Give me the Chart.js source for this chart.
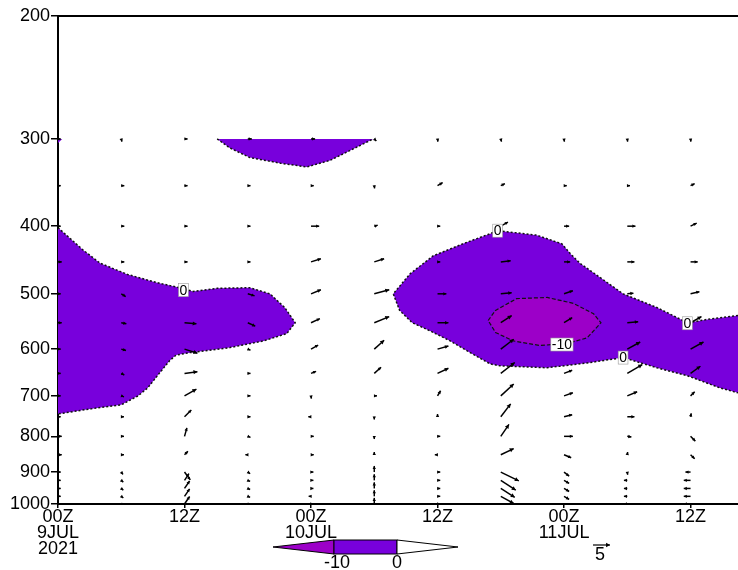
<!DOCTYPE html>
<html>
<head>
<meta charset="utf-8">
<script src="https://cdn.jsdelivr.net/npm/chart.js@4.4.1/dist/chart.umd.min.js"></script>
<style>
html, body { margin: 0; padding: 0; background: #fff; }
#wrap { width: 738px; height: 570px; position: relative; }
</style>
</head>
<body>
<div id="wrap"><canvas id="xsec"></canvas></div>
<script>
// time axis (hours from 00Z 9 JUL 2021) and pressure levels of the wind grid
const hours = [0, 6, 12, 18, 24, 30, 36, 42, 48, 54, 60];
const levels = [1000, 975, 950, 925, 900, 850, 800, 750, 700, 650, 600, 550, 500, 450, 400, 350, 300];
const pressureTicks = [200, 300, 400, 500, 600, 700, 800, 900, 1000];
const timeTicks = [0, 12, 24, 36, 48, 60];
const timeLabels = [["00Z", "9JUL", "2021"], ["12Z"], ["00Z", "10JUL"], ["12Z"], ["00Z", "11JUL"], ["12Z"]];

// wind components per time column, levels 1000 -> 300
const uWind = [
  [0.8, 0.8, 0.8, 0.8, 0.8, 1.1, 1.1, 0.8, 0.8, 0.8, 0.8, 1.1, 0.8, 1.1, 0.8, 0.8, 0.8],
  [0.6, 0.6, 0.6, 0.6, 0.5, 0.8, 0.8, 0.8, 0.8, 0.9, 1.4, 1.5, 1.3, 0.9, 0.9, 0.9, 0.2],
  [1.5, 1.5, 1.5, 1.3, 1.7, 1.0, 0.7, 2.0, 3.5, 3.8, 3.8, 3.5, 0.9, 0.9, 0.9, 0.9, 0.9],
  [0.7, 0.7, 0.7, 0.7, 0.7, -0.7, 0.8, 0.8, 0.8, 0.8, 0.8, 2.2, 2.0, 0.8, 0.8, 0.8, 1.2],
  [0.7, -0.7, 0.7, 0.7, 0.7, 0.8, 0.8, -0.8, 0.1, 1.5, 2.1, 2.6, 2.9, 2.9, 2.4, 0.8, 1.2],
  [0, 0, 0, 0, 0, 0, 0, 0, 0.8, 2.0, 2.9, 4.4, 4.4, 2.9, 1.0, 0.1, 0.6],
  [0.8, 0.8, 0.8, 0.8, 0.8, -0.8, 0.8, 0, 0.9, 3.2, 3.2, 3.2, 2.6, 0.8, 0.8, 1.5, 0.1],
  [1.8, 3.8, 4.1, 4.4, 5.3, 3.8, 2.4, 2.9, 3.8, 4.1, 3.8, 3.2, 3.2, 2.9, 2.1, 1.2, 0.2],
  [1.5, 1.5, 1.5, 1.5, 1.5, 2.1, 2.6, 2.4, 2.6, 2.4, 2.4, 2.4, 2.6, 1.8, 1.5, 0.8, 0.1],
  [-1.0, -1.0, -1.0, -1.0, 0.1, 0.1, 1.2, 2.1, 2.9, 4.4, 3.8, 3.2, 1.8, 2.1, 2.4, 0.8, 0.1],
  [-2.0, -2.0, -2.0, -2.0, -1.5, 1.2, 1.4, 0.2, 1.2, 2.9, 3.8, 3.2, 2.6, 2.1, 1.8, 1.2, 0.1]
];
const vWind = [
  [0, 0, 0, 0, 0, 0, 0, 0, 0, 0, 0, 0, 0, 0, 0, 0, 0],
  [-0.5, -0.5, -0.5, -0.5, -0.7, 0, 0, 0, -0.3, -0.5, -0.4, -0.3, -0.8, 0, 0, 0, -0.8],
  [2.2, 2.2, 2.2, 2.0, -2.3, 1.0, 2.5, 2.0, 2.0, 0.5, -1.2, -0.3, 0, 0, 0, 0, 0],
  [-0.3, -0.3, -0.3, -0.3, -0.5, 0, -0.3, 0, 0, 0, -0.3, -1.0, -0.6, 0, 0, 0, 0],
  [0, 0, 0, 0, 0, 0, 0, 0, -0.8, 0.6, 1.2, 1.2, 1.2, 0.9, 0, 0, 0],
  [1.8, 1.8, 1.8, 1.8, 1.8, 0.8, -0.8, -0.8, 0, 1.8, 2.6, 1.8, 1.2, 0.9, 0.3, -0.8, -0.6],
  [0, 0, 0, 0, 0, 0, 0, 0.8, 1.5, 1.5, 0.9, 0, 0, 0, 0, 0.9, -0.8],
  [-1.2, -2.1, -2.6, -2.9, -2.6, 1.8, 3.5, 3.8, 3.5, 3.2, 2.9, 2.1, 0.3, 0.3, 1.2, 0.6, -0.8],
  [-0.9, -0.9, -0.9, -0.9, -1.2, -0.9, 0, 0.6, 0.9, 0.9, 1.5, 1.5, 0.9, 0, 0, 0, -0.8],
  [0, 0, 0, 0, -0.8, 0.8, -0.2, 0, 1.2, 2.6, 2.1, 0.3, 0.2, 0, 0, 0, -0.8],
  [0, 0, 0, 0, 0, -1.2, -1.4, 1.0, 1.2, 2.1, 2.1, 1.8, 0.6, 0, 0.9, 0.6, -0.8]
];

// contours [hour, hPa]
const zeroLeft = [[0, 402], [2.4, 433], [4.0, 452], [6.6, 469], [9.4, 482], [11.8, 491], [12.8, 496], [15.1, 491],
  [18.2, 490], [20.1, 500], [21.5, 523], [22.5, 550], [21.7, 570], [19.5, 584], [16.3, 597], [12.5, 607],
  [11.2, 612], [10.6, 623], [9.6, 650], [8.5, 682], [7.6, 700], [6.0, 721], [3.0, 731], [0, 743]];
const zeroTop = [[15.1, 300], [16.3, 309], [18.2, 319], [21.1, 325], [23.6, 329], [25.8, 322], [29.9, 300]];
const zeroCorner = [[0, 300], [0.4, 300], [0, 304]];
const zeroRight = [[64.5, 537], [61.6, 544], [59.7, 550], [56.8, 523], [53.6, 500], [49.5, 452], [48.6, 438],
  [47.8, 424], [45.4, 412], [41.7, 406], [41.0, 410], [38.4, 424], [35.6, 441], [33.4, 468], [31.8, 500],
  [32.4, 528], [33.6, 550], [35.3, 565], [37.2, 584], [39.1, 607], [41.0, 630], [41.9, 634], [46.4, 638],
  [50.2, 628], [53.6, 617], [56.8, 638], [59.7, 655], [62.8, 682], [64.5, 693]];
const minusTen = [[40.8, 546], [41.5, 528], [43.5, 508], [46.4, 506], [48.9, 516], [50.8, 534], [51.5, 550],
  [50.2, 578], [48.3, 589], [45.7, 593], [43.2, 584], [41.5, 568]];

const contourLabels = [
  { text: "0", h: 11.9, p: 494 },
  { text: "0", h: 41.7, p: 406 },
  { text: "0", h: 53.6, p: 617 },
  { text: "0", h: 59.7, p: 551 },
  { text: "-10", h: 47.8, p: 591 }
];

const PURPLE = '#7800dc';
const MAGENTA = '#9c00c8';
const PX_PER_MS = 3.4;
const FONT = '"Liberation Sans", Arial, sans-serif';

Chart.defaults.font.family = FONT;
Chart.defaults.color = '#000';

function pts(arr, close) {
  const out = arr.map(a => ({ x: a[0], y: a[1] }));
  if (close) out.push({ x: arr[0][0], y: arr[0][1] });
  return out;
}

function fillSet(arr, color, order) {
  return { data: pts(arr, true), showLine: true, fill: 'shape', backgroundColor: color,
    borderWidth: 0, pointRadius: 0, tension: 0, order: order };
}
function lineSet(arr, close, dash, width) {
  return { data: pts(arr, close), showLine: true, fill: false, borderColor: '#111',
    borderWidth: width, borderDash: dash, pointRadius: 0, tension: 0, order: 0 };
}

function drawArrow(ctx, x0, y0, u, v) {
  const dx = u * PX_PER_MS, dy = -v * PX_PER_MS;
  const len = Math.hypot(dx, dy);
  if (len < 0.5) return;
  const x1 = x0 + dx, y1 = y0 + dy;
  const ang = Math.atan2(dy, dx);
  const hl = Math.min(4.5, Math.max(3.5, len * 0.35));
  ctx.beginPath();
  ctx.moveTo(x0, y0);
  ctx.lineTo(x1, y1);
  ctx.stroke();
  ctx.beginPath();
  ctx.moveTo(x1, y1);
  ctx.lineTo(x1 - hl * Math.cos(ang - 0.5), y1 - hl * Math.sin(ang - 0.5));
  ctx.lineTo(x1 - hl * Math.cos(ang + 0.5), y1 - hl * Math.sin(ang + 0.5));
  ctx.closePath();
  ctx.fill();
}

const windArrows = {
  id: 'windArrows',
  afterDatasetsDraw(chart) {
    const { ctx, chartArea: a, scales: { x, y } } = chart;
    ctx.save();
    ctx.beginPath();
    ctx.rect(a.left, a.top, a.right - a.left, a.bottom - a.top);
    ctx.clip();
    ctx.strokeStyle = '#000';
    ctx.fillStyle = '#000';
    ctx.lineWidth = 1.5;
    hours.forEach((h, i) => {
      levels.forEach((p, j) => {
        drawArrow(ctx, x.getPixelForValue(h), y.getPixelForValue(p), uWind[i][j], vWind[i][j]);
      });
    });
    // contour labels
    ctx.font = '14px ' + FONT;
    ctx.textAlign = 'center';
    ctx.textBaseline = 'middle';
    contourLabels.forEach(l => {
      const px = x.getPixelForValue(l.h), py = y.getPixelForValue(l.p);
      const w = ctx.measureText(l.text).width + 2;
      ctx.fillStyle = '#fff';
      ctx.fillRect(px - w / 2, py - 6.5, w, 13);
      ctx.strokeStyle = '#999';
      ctx.lineWidth = 0.6;
      ctx.strokeRect(px - w / 2, py - 6.5, w, 13);
      ctx.fillStyle = '#000';
      ctx.fillText(l.text, px, py + 0.5);
    });
    ctx.restore();
  },
  afterDraw(chart) {
    const { ctx, chartArea: a } = chart;
    ctx.save();
    // top frame
    ctx.strokeStyle = '#000';
    ctx.lineWidth = 2;
    ctx.beginPath();
    ctx.moveTo(a.left - 1, a.top);
    ctx.lineTo(a.right, a.top);
    ctx.stroke();
    // colour bar
    const y0 = 540, y1 = 554, ym = 547;
    ctx.lineWidth = 1;
    ctx.fillStyle = MAGENTA;
    ctx.beginPath();
    ctx.moveTo(273, ym); ctx.lineTo(334, y0); ctx.lineTo(334, y1); ctx.closePath();
    ctx.fill(); ctx.stroke();
    ctx.fillStyle = PURPLE;
    ctx.fillRect(334, y0, 63, y1 - y0);
    ctx.strokeRect(334, y0, 63, y1 - y0);
    ctx.fillStyle = '#fff';
    ctx.beginPath();
    ctx.moveTo(397, y0); ctx.lineTo(458, ym); ctx.lineTo(397, y1); ctx.closePath();
    ctx.fill(); ctx.stroke();
    ctx.fillStyle = '#000';
    ctx.font = '18px ' + FONT;
    ctx.textAlign = 'center';
    ctx.textBaseline = 'middle';
    ctx.fillText('-10', 337, 563);
    ctx.fillText('0', 397, 563);
    // reference vector
    ctx.lineWidth = 1.2;
    drawArrow(ctx, 593, 545, 5, 0);
    ctx.fillText('5', 600, 555);
    ctx.restore();
  }
};

new Chart(document.getElementById('xsec'), {
  type: 'line',
  data: {
    datasets: [
      fillSet(zeroLeft, PURPLE, 3),
      fillSet(zeroTop, PURPLE, 3),
      fillSet(zeroCorner, PURPLE, 3),
      fillSet(zeroRight, PURPLE, 3),
      fillSet(minusTen, MAGENTA, 2),
      lineSet(zeroLeft, false, [2, 2], 1.5),
      lineSet(zeroTop, false, [2, 2], 1.5),
      lineSet(zeroRight, false, [2, 2], 1.5),
      lineSet(minusTen, true, [4, 2], 1.2)
    ]
  },
  options: {
    responsive: true,
    maintainAspectRatio: false,
    animation: false,
    events: [],
    layout: { padding: { top: 16, right: 0, left: 0, bottom: 0 } },
    plugins: { legend: { display: false }, tooltip: { enabled: false } },
    scales: {
      x: {
        type: 'linear',
        min: 0,
        max: 64.5,
        afterBuildTicks: s => { s.ticks = timeTicks.map(v => ({ value: v })); },
        afterFit: s => { s.height = 66; },
        grid: { drawOnChartArea: false, drawTicks: true, tickLength: 4, tickColor: '#000', lineWidth: 1.5 },
        border: { display: true, color: '#000', width: 2 },
        ticks: {
          autoSkip: false, maxRotation: 0, padding: 1, color: '#000',
          font: { family: FONT, size: 18, lineHeight: 0.89 },
          callback: v => timeLabels[timeTicks.indexOf(v)]
        }
      },
      y: {
        type: 'logarithmic',
        min: 200,
        max: 1000,
        reverse: true,
        afterBuildTicks: s => { s.ticks = pressureTicks.map(v => ({ value: v })); },
        afterFit: s => { s.width = 58; },
        grid: { drawOnChartArea: false, drawTicks: true, tickLength: 7, tickColor: '#000', lineWidth: 1.5 },
        border: { display: true, color: '#000', width: 2 },
        ticks: { padding: 1, color: '#000', font: { family: FONT, size: 18 }, callback: v => String(v) }
      }
    }
  },
  plugins: [windArrows]
});
</script>
</body>
</html>
